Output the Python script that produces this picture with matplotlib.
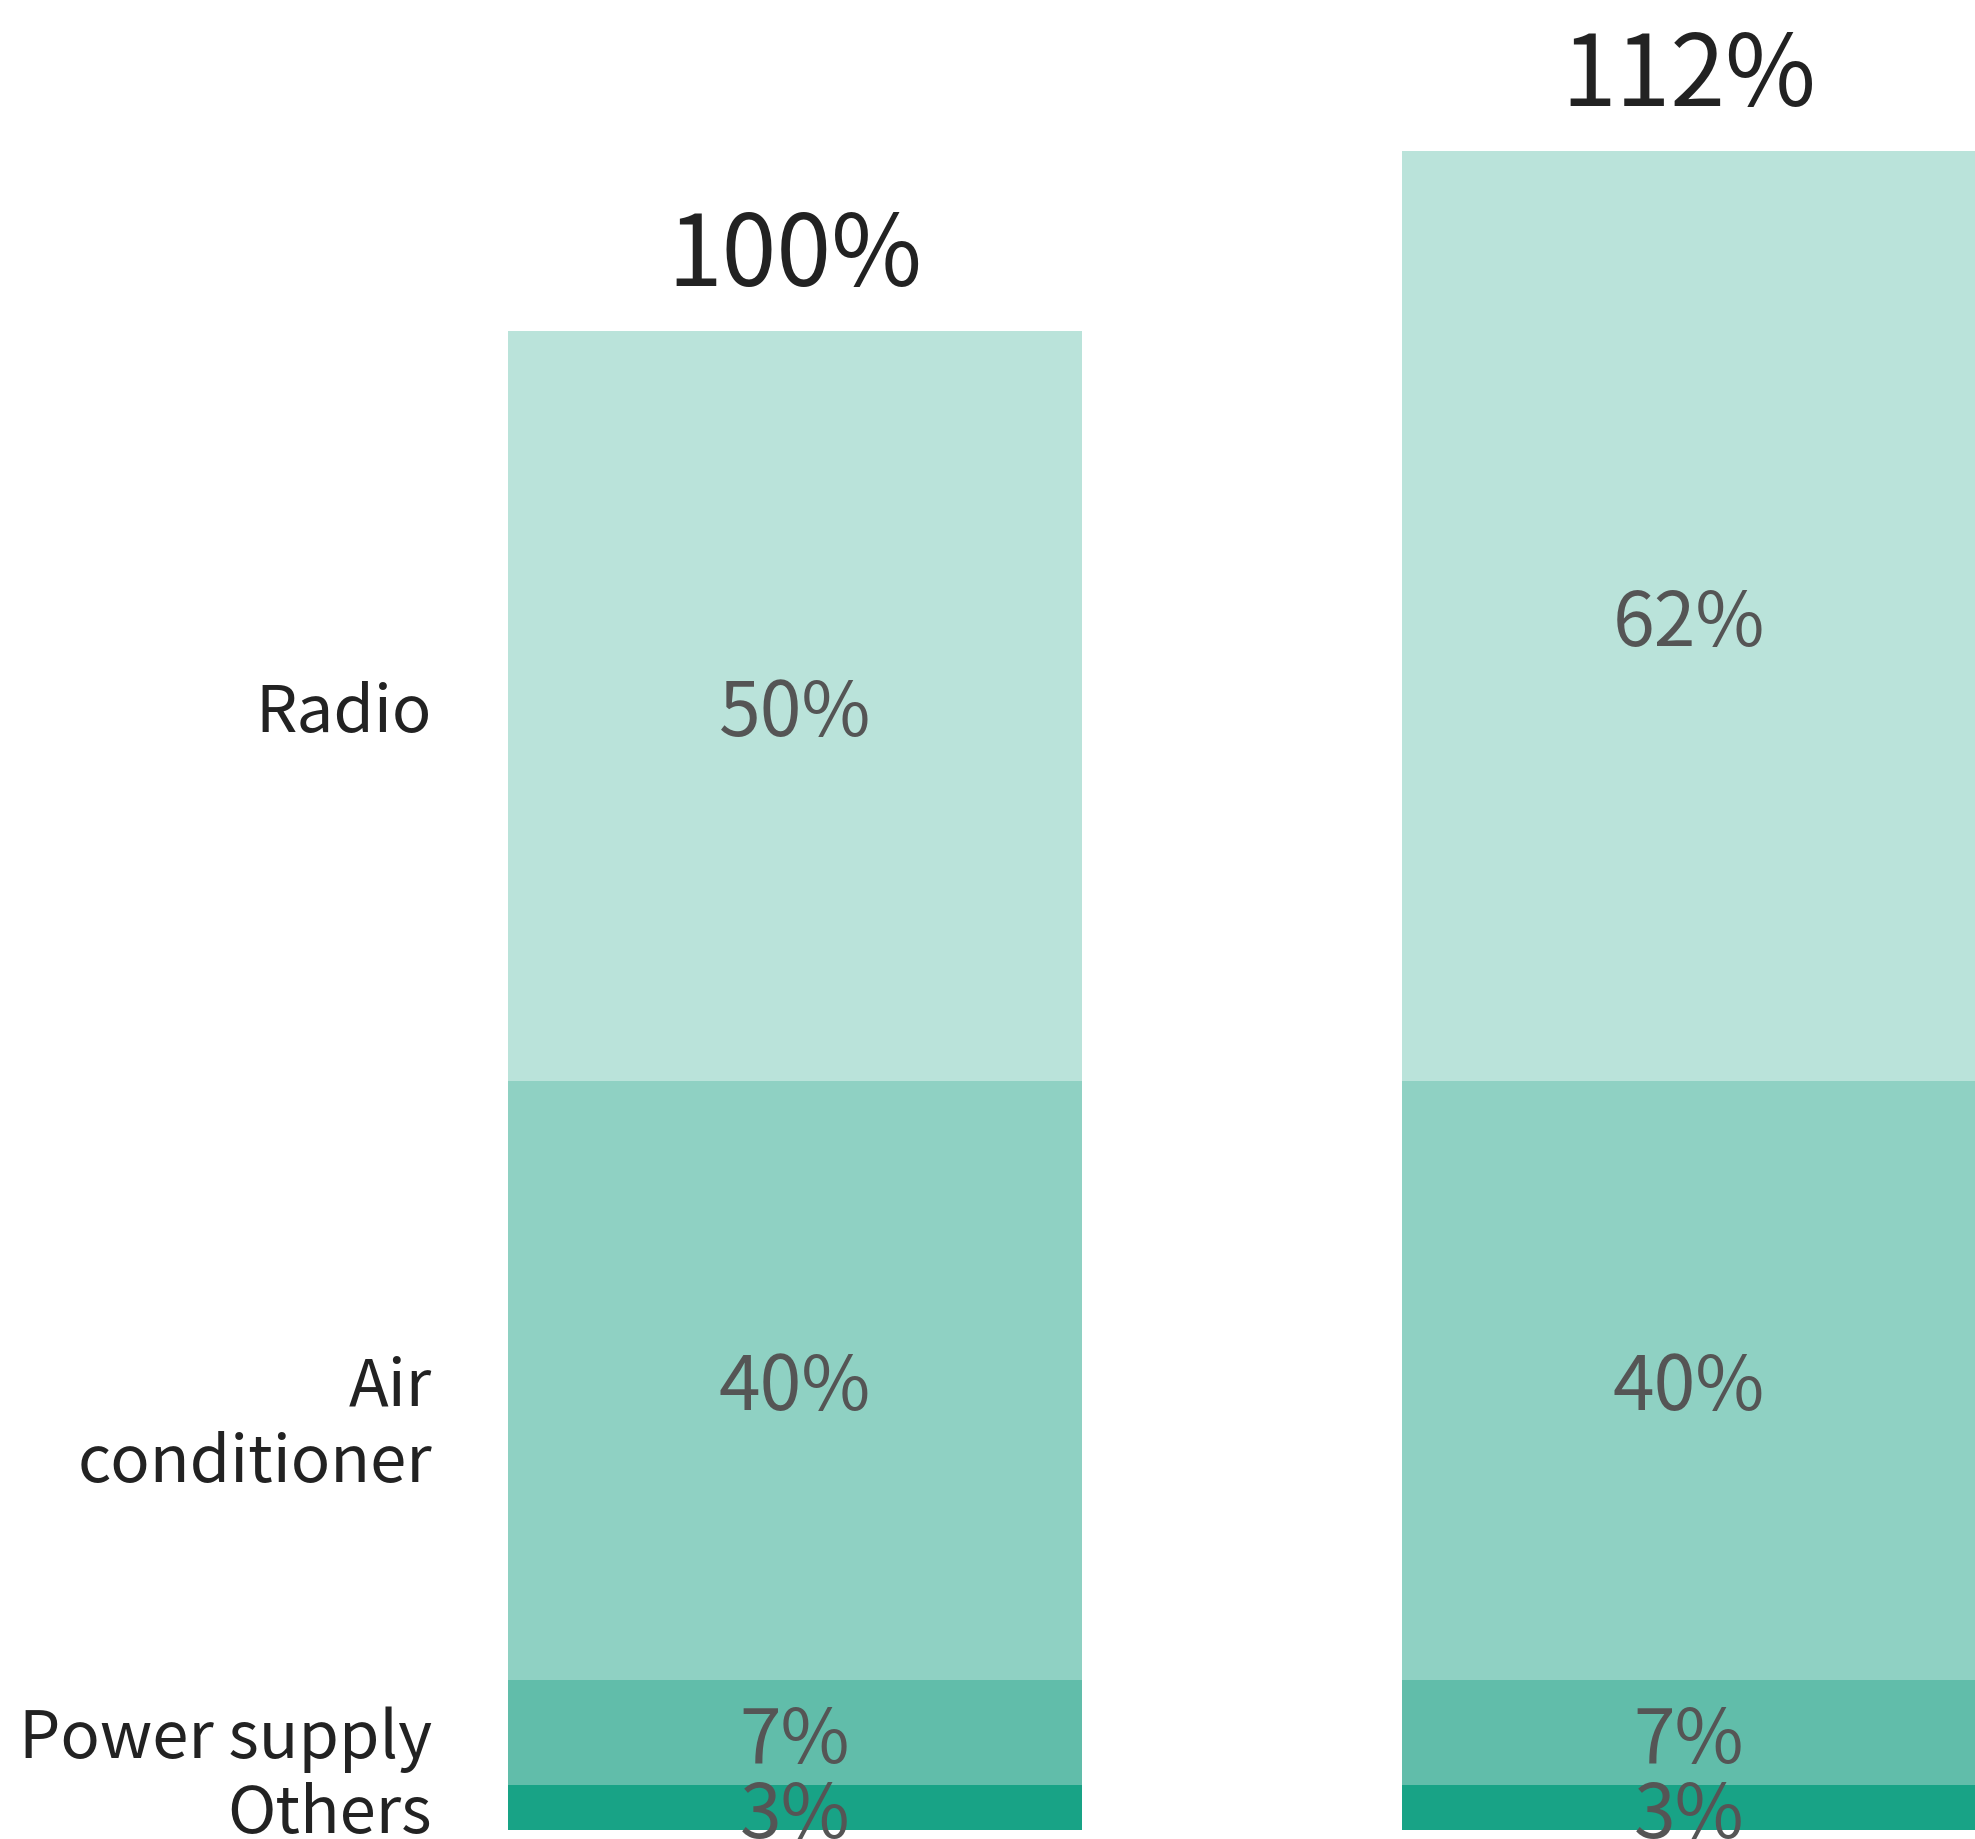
import matplotlib.pyplot as plt

plt.rcParams['font.family'] = ['Noto Sans CJK JP', 'DejaVu Sans']

# stacked shares, bottom to top
categories = ['Others', 'Power supply', 'Air\nconditioner', 'Radio']
bar_a = [3, 7, 40, 50]
bar_b = [3, 7, 40, 62]
colors = ['#18a386', '#61bdaa', '#8fd1c3', '#bae3da']

fig = plt.figure(figsize=(19.75, 18.39), dpi=100)
ax = fig.add_axes([0, 0, 1, 1])

width = 0.642
for x, values in [(0, bar_a), (1, bar_b)]:
    bottom = 0
    for v, c in zip(values, colors):
        ax.bar(x, v, width=width, bottom=bottom, color=c, linewidth=0)
        ax.text(x, bottom + v / 2, f'{v}%', ha='center', va='center_baseline',
                fontsize=54, color='#555555')
        bottom += v
    ax.text(x, bottom + 3, f'{bottom}%', ha='center', va='baseline',
            fontsize=71, color='#222222')

# category names beside the first bar; two-line names hang below the centre
bottom = 0
for name, v in zip(categories, bar_a):
    y = bottom + v / 2
    if '\n' in name:
        ax.text(-0.406, y - 3.0, name, ha='right', va='center',
                fontsize=47, color='#222222', linespacing=1.2)
    else:
        ax.text(-0.406, y, name, ha='right', va='center_baseline',
                fontsize=47, color='#222222')
    bottom += v

ax.set_xlim(-0.889, 1.32)
ax.set_ylim(-0.6, 122.1)
ax.axis('off')

fig.savefig('out.png', dpi=100)
